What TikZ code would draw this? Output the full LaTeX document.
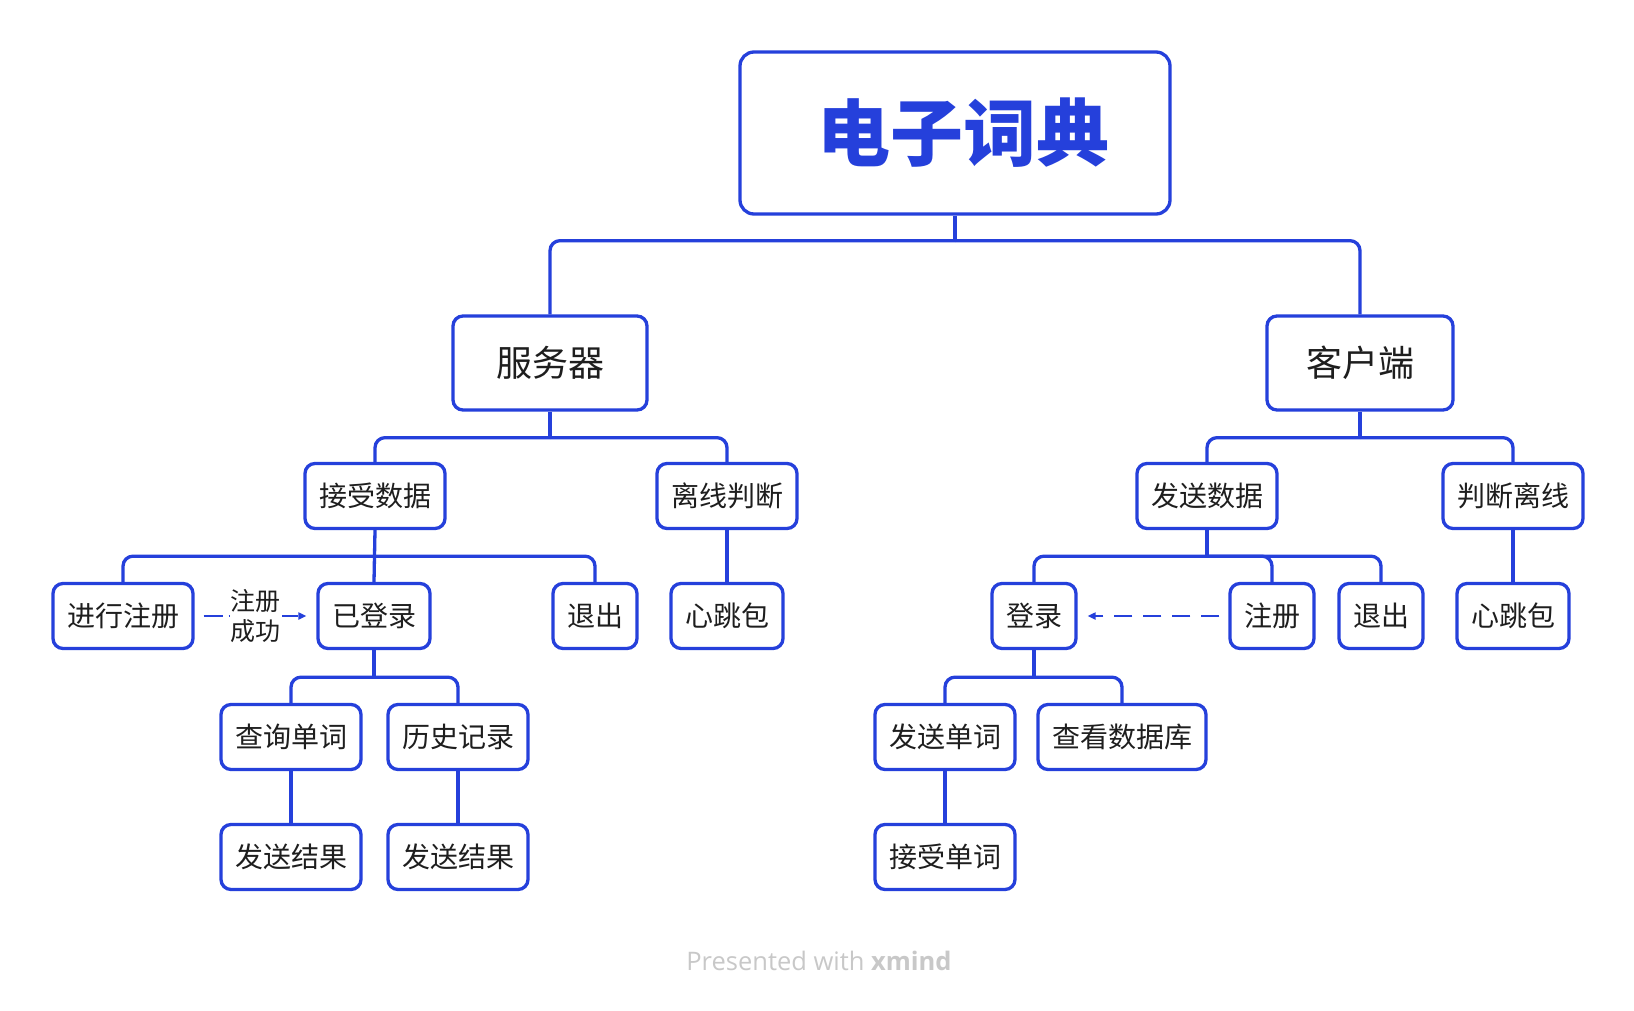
\documentclass[tikz,border=0pt]{standalone}
\usepackage{fontspec}
\setmainfont{Noto Sans CJK SC}
\newfontfamily\footfont{Open Sans}
\usetikzlibrary{arrows.meta}
\definecolor{xblue}{RGB}{37,64,219}
\definecolor{xtext}{RGB}{30,30,30}
\definecolor{xgray}{RGB}{200,200,200}
\tikzset{
	topic/.style={draw=xblue, line width=3.3pt, rounded corners=10pt, fill=white, minimum height=65pt, inner xsep=14pt, text=xtext, font=\fontsize{28}{32}\selectfont},
	branch/.style={topic, minimum height=94pt, inner xsep=43pt, font=\fontsize{36}{40}\selectfont},
	root/.style={topic, rounded corners=14pt, minimum width=430pt, minimum height=162pt, text=xblue, font=\fontsize{73}{80}\selectfont\bfseries},
	link/.style={draw=xblue, line width=3.3pt, rounded corners=10pt},
	hint/.style={draw=xblue, line width=2pt, -{Triangle[length=8pt,width=7pt]}}
}

\begin{document}
\begin{tikzpicture}[x=1pt, y=-1pt]
	\useasboundingbox[fill=white] (0,0) rectangle (1634,1010);

	\node[root] (dict) at (955,133) {\hspace{16pt}电子词典};

	\node[branch] (server) at (550,363) {服务器};
	\node[branch, inner xsep=39pt] (client) at (1360,363) {客户端};

	\node[topic] (recv) at (375,496) {接受数据};
	\node[topic] (offS) at (727,496) {离线判断};
	\node[topic] (send) at (1207,496) {发送数据};
	\node[topic] (offC) at (1513,496) {判断离线};

	\node[topic] (signup) at (123,616) {进行注册};
	\node[topic] (logged) at (374,616) {已登录};
	\node[topic] (quitS) at (595,616) {退出};
	\node[topic] (beatS) at (727,616) {心跳包};
	\node[topic] (login) at (1034,616) {登录};
	\node[topic] (reg) at (1272,616) {注册};
	\node[topic] (quitC) at (1381,616) {退出};
	\node[topic] (beatC) at (1513,616) {心跳包};

	\node[topic] (query) at (291,737) {查询单词};
	\node[topic] (hist) at (458,737) {历史记录};
	\node[topic] (sendW) at (945,737) {发送单词};
	\node[topic] (db) at (1122,737) {查看数据库};

	\node[topic] (resA) at (291,857) {发送结果};
	\node[topic] (resB) at (458,857) {发送结果};
	\node[topic] (recvW) at (945,857) {接受单词};

	% tree links
	\draw[link] (dict.south) -- ++(0,25) coordinate (b0);
	\draw[link] (b0) -| (server.north);
	\draw[link] (b0) -| (client.north);

	\draw[link] (server.south) -- ++(0,26) coordinate (b1);
	\draw[link] (b1) -| (recv.north);
	\draw[link] (b1) -| (offS.north);
	\draw[link] (client.south) -- ++(0,26) coordinate (b2);
	\draw[link] (b2) -| (send.north);
	\draw[link] (b2) -| (offC.north);

	\draw[link] (recv.south) -- (logged.north);
	\draw[link] (recv.south) ++(0,26) coordinate (b3);
	\draw[link] (b3) -| (signup.north);
	\draw[link] (b3) -| (quitS.north);
	\draw[link] (offS) -- (beatS);
	\draw[link] (send.south) -- ++(0,26) coordinate (b4);
	\draw[link] (b4) -| (login.north);
	\draw[link] (b4) -| (reg.north);
	\draw[link] (b4) -| (quitC.north);
	\draw[link] (offC) -- (beatC);

	\draw[link] (logged.south) -- ++(0,27) coordinate (b5);
	\draw[link] (b5) -| (query.north);
	\draw[link] (b5) -| (hist.north);
	\draw[link] (login.south) -- ++(0,27) coordinate (b6);
	\draw[link] (b6) -| (sendW.north);
	\draw[link] (b6) -| (db.north);

	\draw[link] (query) -- (resA);
	\draw[link] (hist) -- (resB);
	\draw[link] (sendW) -- (recvW);

	% dashed hints
	\draw[hint, dash pattern=on 19pt off 6pt, shorten <=9pt, shorten >=10pt] (signup) -- node[fill=white, inner xsep=1pt, inner ysep=2pt, align=center, text=xtext, font=\fontsize{25}{30}\selectfont] {注册\\成功} (logged);
	\draw[hint, dash pattern=on 18pt off 11pt, shorten <=9pt, shorten >=10pt] (reg) -- (login);

	\node[text=xgray, font=\footfont\fontsize{25.5}{28}\selectfont] (credit) at (819,961) {Presented with \textbf{xmind}};
\end{tikzpicture}
\end{document}
